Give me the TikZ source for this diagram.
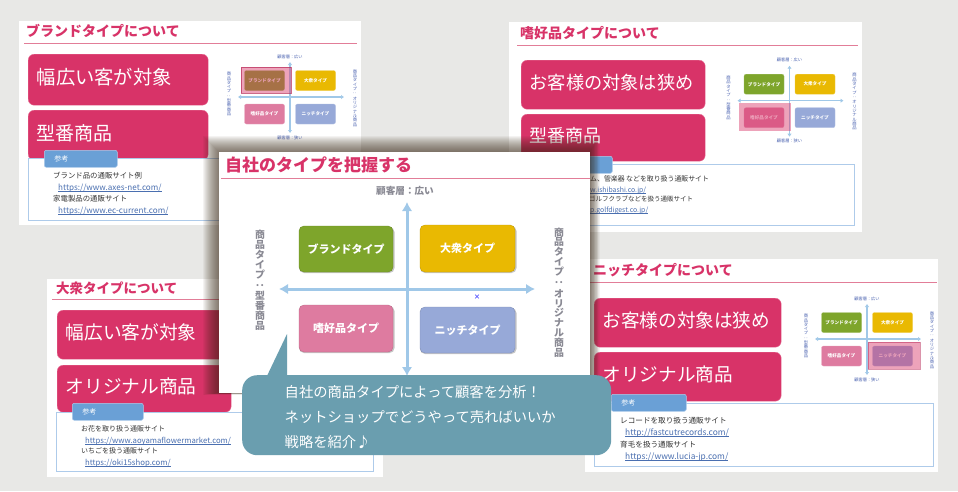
\documentclass[tikz,border=0pt]{standalone}
\usepackage{fontspec}
\setmainfont{Noto Sans CJK JP}
\usetikzlibrary{arrows.meta}
\definecolor{bgc}{HTML}{E8E8E6}
\definecolor{rosec}{HTML}{D83368}
\definecolor{rulec}{HTML}{E27D98}
\definecolor{tabc}{HTML}{6AA0D6}
\definecolor{refc}{HTML}{AECBEA}
\definecolor{linkc}{HTML}{4A6FB0}
\definecolor{txtc}{HTML}{333333}
\definecolor{arrc}{HTML}{A0C8E8}
\definecolor{greenc}{HTML}{7EA52B}
\definecolor{yellowc}{HTML}{E9B902}
\definecolor{pinkc}{HTML}{DE7BA0}
\definecolor{bluec}{HTML}{97A9D8}
\definecolor{labc}{HTML}{4A62B0}
\definecolor{glabc}{HTML}{8A8A94}
\definecolor{callc}{HTML}{6A9EAF}
\newcommand{\LeftV}{商\\品\\タ\\イ\\プ\\\rotatebox{90}{：}\\型\\番\\商\\品}
\newcommand{\RightV}{商\\品\\タ\\イ\\プ\\\rotatebox{90}{：}\\オ\\リ\\ジ\\ナ\\ル\\商\\品}
\newcommand{\lk}[1]{\underline{\smash{#1}}}
\newcommand{\up}{\rule[-6pt]{0pt}{0pt}}
\tikzset{
  slidebg/.style={fill=white,draw=none},
  ttl/.style={anchor=west,inner sep=0pt,text=rosec,font=\fontsize{14}{14}\selectfont\bfseries},
  rulel/.style={draw=rulec,line width=0.9pt},
  bigbx/.style={anchor=north west,fill=rosec,draw=rosec!70!white,line width=0.4pt,rounded corners=6pt,text=white,align=left,inner ysep=0pt,inner xsep=8.5pt},
  refbox/.style={anchor=north west,draw=refc,line width=0.9pt,fill=white,inner sep=0pt},
  tabbx/.style={anchor=north west,fill=tabc,draw=refc,line width=0.5pt,rounded corners=2pt,minimum height=17pt,inner xsep=10pt,inner ysep=0pt,align=left,text=white,font=\fontsize{7}{7}\selectfont},
  reft/.style={anchor=west,inner sep=0pt,text=txtc,font=\fontsize{7.4}{7.4}\selectfont},
  lnk/.style={anchor=west,inner sep=0pt,yshift=-3pt,text=linkc,font=\fontsize{#1}{#1}\selectfont},
  minibx/.style={fill=#1,draw=#1!70!white,line width=0.3pt,rounded corners=2pt,minimum width=40pt,minimum height=20pt,inner sep=0pt,text=white,font=\fontsize{4.6}{4.6}\selectfont\bfseries},
  minilab/.style={inner sep=0pt,text=labc,font=\fontsize{4.2}{4.2}\selectfont},
  miniv/.style={inner sep=0pt,text=labc,align=center,font=\fontsize{4.3}{4.3}\selectfont},
  miniarr/.style={draw=arrc,line width=1.1pt,{Latex[length=3pt,width=4.5pt]}-{Latex[length=3pt,width=4.5pt]}},
  hilite/.style={fill=rosec,fill opacity=.45,draw=rosec!85!black,draw opacity=#1,line width=0.5pt},
  mainbx/.style={fill=#1,draw=#1!85!black,line width=0.4pt,rounded corners=5pt,inner sep=0pt,text=white,font=\fontsize{11}{11}\selectfont\bfseries},
  mainarr/.style={draw=arrc,line width=3pt,{Latex[length=9pt,width=10.5pt]}-{Latex[length=9pt,width=10.5pt]}},
  mainv/.style={inner sep=0pt,text=glabc,align=center,font=\fontsize{9.9}{9.9}\selectfont\bfseries},
}
% mini matrix: prefix, origin x, origin y, highlight corners (relative), border opacity
\newcommand{\minimatrix}[8]{%
\begin{scope}[shift={(#2,#3)},name prefix=#1]
  \coordinate (vt) at (0,-35); \coordinate (vb) at (0,36);
  \coordinate (hl) at (-52,0); \coordinate (hr) at (54,0);
  \draw[miniarr] (vt) -- (vb);
  \draw[miniarr] (hl) -- (hr);
  \node[minibx=greenc] (brand) at (-25.5,-16.5) {ブランドタイプ};
  \node[minibx=yellowc] (mass) at (25.5,-16.5) {大衆タイプ};
  \node[minibx=pinkc] (like) at (-25.5,17) {嗜好品タイプ};
  \node[minibx=bluec] (niche) at (25.5,17) {ニッチタイプ};
  \filldraw[hilite=#8] (#4,#5) rectangle (#6,#7);
  \node[minilab] (top) at (0,-40.5) {顧客層：広い};
  \node[minilab] (bot) at (0,40.5) {顧客層：狭い};
  \node[miniv] (lv) at (-61,-3) {\LeftV};
  \node[miniv] (rv) at (65,1) {\RightV};
\end{scope}}
\begin{document}
\begin{tikzpicture}[x=1pt,y=-1pt]
\path[use as bounding box,fill=bgc] (0,0) rectangle (958,491);

%% slide 1
\fill[slidebg] (19,21) rectangle (361,225);
\node[ttl] (t1) at (26,31) {ブランドタイプについて};
\coordinate (r1a) at (24,43.5); \coordinate (r1b) at (357,43.5);
\draw[rulel] (r1a) -- (r1b);
\node[bigbx,minimum height=51pt,text width=163pt,font=\fontsize{19.3}{19.3}\selectfont] (a1) at (28,54) {幅広い客が対象\up};
\node[bigbx,minimum height=50pt,text width=163pt,font=\fontsize{19}{19}\selectfont] (a2) at (28,110) {型番商品\up};
\node[refbox,minimum width=328pt,minimum height=62pt] (a3) at (28,158) {};
\node[tabbx,text width=53pt] (a4) at (44,150) {参考};
\node[reft] (a5) at (53,176) {ブランド品の通販サイト例};
\node[lnk=8.1] (a6) at (58,188) {\lk{https://www.axes-net.com/}};
\node[reft] (a7) at (53,199) {家電製品の通販サイト};
\node[lnk=8.1] (a8) at (58,211) {\lk{https://www.ec-current.com/}};
\minimatrix{m1-}{290}{97}{-49}{-30}{1}{-4}{.7}

%% slide 2
\fill[slidebg] (509,22) rectangle (862,232);
\node[ttl] (t2) at (520,33) {嗜好品タイプについて};
\coordinate (r2a) at (517,45); \coordinate (r2b) at (858,45);
\draw[rulel] (r2a) -- (r2b);
\node[bigbx,minimum height=49pt,text width=167pt,font=\fontsize{18.2}{18.2}\selectfont] (b1) at (521,60) {お客様の対象は狭め\up};
\node[bigbx,minimum height=47pt,text width=167pt,font=\fontsize{18}{18}\selectfont] (b2) at (521,114) {型番商品\up};
\node[refbox,minimum width=334pt,minimum height=61pt] (b3) at (520,164) {};
\node[tabbx,minimum width=73pt] (b4) at (539,156) {};
\node[reft,font=\fontsize{6.9}{6.9}\selectfont] (b5) at (590,179) {ム、管楽器 などを取り扱う通販サイト};
\node[lnk=6.9] (b6) at (590,190) {\lk{w.ishibashi.co.jp/}};
\node[reft,font=\fontsize{6.5}{6.5}\selectfont] (b7) at (589,199) {ゴルフクラブなどを扱う通販サイト};
\node[lnk=6.9] (b8) at (590,210) {\lk{p.golfdigest.co.jp/}};
\minimatrix{m2-}{789.5}{100.7}{-51}{2.5}{1.5}{30.5}{0}

%% slide 3
\fill[slidebg] (47,279) rectangle (383,477);
\node[ttl,font=\fontsize{13.5}{13.5}\selectfont\bfseries] (t3) at (56,288) {大衆タイプについて};
\coordinate (r3a) at (52,299); \coordinate (r3b) at (378,299);
\draw[rulel] (r3a) -- (r3b);
\node[bigbx,minimum height=49pt,text width=157pt,font=\fontsize{18.7}{18.7}\selectfont] (c1) at (57,310) {幅広い客が対象\up};
\node[bigbx,minimum height=47pt,text width=157pt,font=\fontsize{18.7}{18.7}\selectfont] (c2) at (57,365) {オリジナル商品\up};
\node[refbox,minimum width=317pt,minimum height=59pt] (c3) at (56,412) {};
\node[tabbx,text width=51pt] (c4) at (72,403) {参考};
\node[reft,font=\fontsize{7}{7}\selectfont] (c5) at (81,429) {お花を取り扱う通販サイト};
\node[lnk=7.75] (c6) at (85,441) {\lk{https://www.aoyamaflowermarket.com/}};
\node[reft,font=\fontsize{7}{7}\selectfont] (c7) at (81,451) {いちごを扱う通販サイト};
\node[lnk=7.8] (c8) at (85,463) {\lk{https://oki15shop.com/}};

%% slide 4
\fill[slidebg] (585,259) rectangle (938,472);
\node[ttl] (t4) at (593,270) {ニッチタイプについて};
\coordinate (r4a) at (590,282.5); \coordinate (r4b) at (937,282.5);
\draw[rulel] (r4a) -- (r4b);
\node[bigbx,minimum height=49pt,text width=170pt,font=\fontsize{18.6}{18.6}\selectfont] (d1) at (594,298) {お客様の対象は狭め\up};
\node[bigbx,minimum height=49pt,text width=170pt,font=\fontsize{18.6}{18.6}\selectfont] (d2) at (594,352) {オリジナル商品\up};
\node[refbox,minimum width=339pt,minimum height=63pt] (d3) at (594,403) {};
\node[tabbx,text width=55pt] (d4) at (611,394) {参考};
\node[reft,font=\fontsize{7.6}{7.6}\selectfont] (d5) at (620,421) {レコードを取り扱う通販サイト};
\node[lnk=8.4] (d6) at (625,433) {\lk{http://fastcutrecords.com/}};
\node[reft,font=\fontsize{7.6}{7.6}\selectfont] (d7) at (620,445) {育毛を扱う通販サイト};
\node[lnk=8.4] (d8) at (625,457) {\lk{https://www.lucia-jp.com/}};
\minimatrix{m4-}{867}{339}{1}{3}{53}{30}{.5}

%% main slide shadow
\foreach \i in {1,...,16}{
  \fill[black!70!brown,opacity=0.05] ({219-\i},{152-\i}) rectangle ({590+0.6*\i},{393+0.1*\i});
}
%% main slide
\fill[slidebg] (219,152) rectangle (590,393);
\node[ttl,font=\fontsize{17}{17}\selectfont\bfseries] (mt) at (225,165) {自社のタイプを把握する};
\coordinate (mra) at (221,178); \coordinate (mrb) at (590,178);
\draw[rulel] (mra) -- (mrb);
\coordinate (mvt) at (407,202); \coordinate (mvb) at (407,376);
\coordinate (mhl) at (279,289); \coordinate (mhr) at (535,289);
\draw[mainarr] (mvt) -- (mvb);
\draw[mainarr] (mhl) -- (mhr);
\fill[gray,opacity=.45,rounded corners=5pt] (299,227) rectangle (394.5,273);
\fill[gray,opacity=.45,rounded corners=5pt] (420,226) rectangle (516.5,273);
\fill[gray,opacity=.45,rounded corners=5pt] (299,306) rectangle (394.5,353);
\fill[gray,opacity=.45,rounded corners=5pt] (420,308) rectangle (516.5,354);
\node[mainbx=greenc,minimum width=94pt,minimum height=46pt] (mb) at (346,249) {ブランドタイプ};
\node[mainbx=yellowc,minimum width=95pt,minimum height=47pt] (mm) at (467.5,248.5) {大衆タイプ};
\node[mainbx=pinkc,minimum width=94pt,minimum height=47pt] (ml) at (346,328.5) {嗜好品タイプ};
\node[mainbx=bluec,minimum width=95pt,minimum height=46pt] (mn) at (467.5,330) {ニッチタイプ};
\node[inner sep=0pt,text=glabc,font=\fontsize{9.6}{9.6}\selectfont\bfseries] (mtl) at (405,191) {顧客層：広い};
\node[mainv] (mlv) at (260,280.5) {\LeftV};
\node[mainv] (mrv) at (559,292.5) {\RightV};
\node[inner sep=0pt,text=blue!70!white,font=\fontsize{6.5}{6.5}\selectfont\bfseries] (mx) at (477,297) {×};

%% callout
\coordinate (ctip) at (287,334); \coordinate (cl) at (266,378); \coordinate (cr) at (287,378);
\fill[callc] (ctip) -- (cl) -- (cr) -- cycle;
\node[anchor=north west,fill=callc,rounded corners=15pt,minimum width=369pt,minimum height=80pt,text width=284pt,inner xsep=42.5pt,inner ysep=0pt,align=left,text=white,font=\fontsize{14.3}{25}\selectfont] (call) at (242,375) {\rule{0pt}{16.6pt}自社の商品タイプによって顧客を分析！\\ネットショップでどうやって売ればいいか\\戦略を紹介♪};
\end{tikzpicture}
\end{document}
